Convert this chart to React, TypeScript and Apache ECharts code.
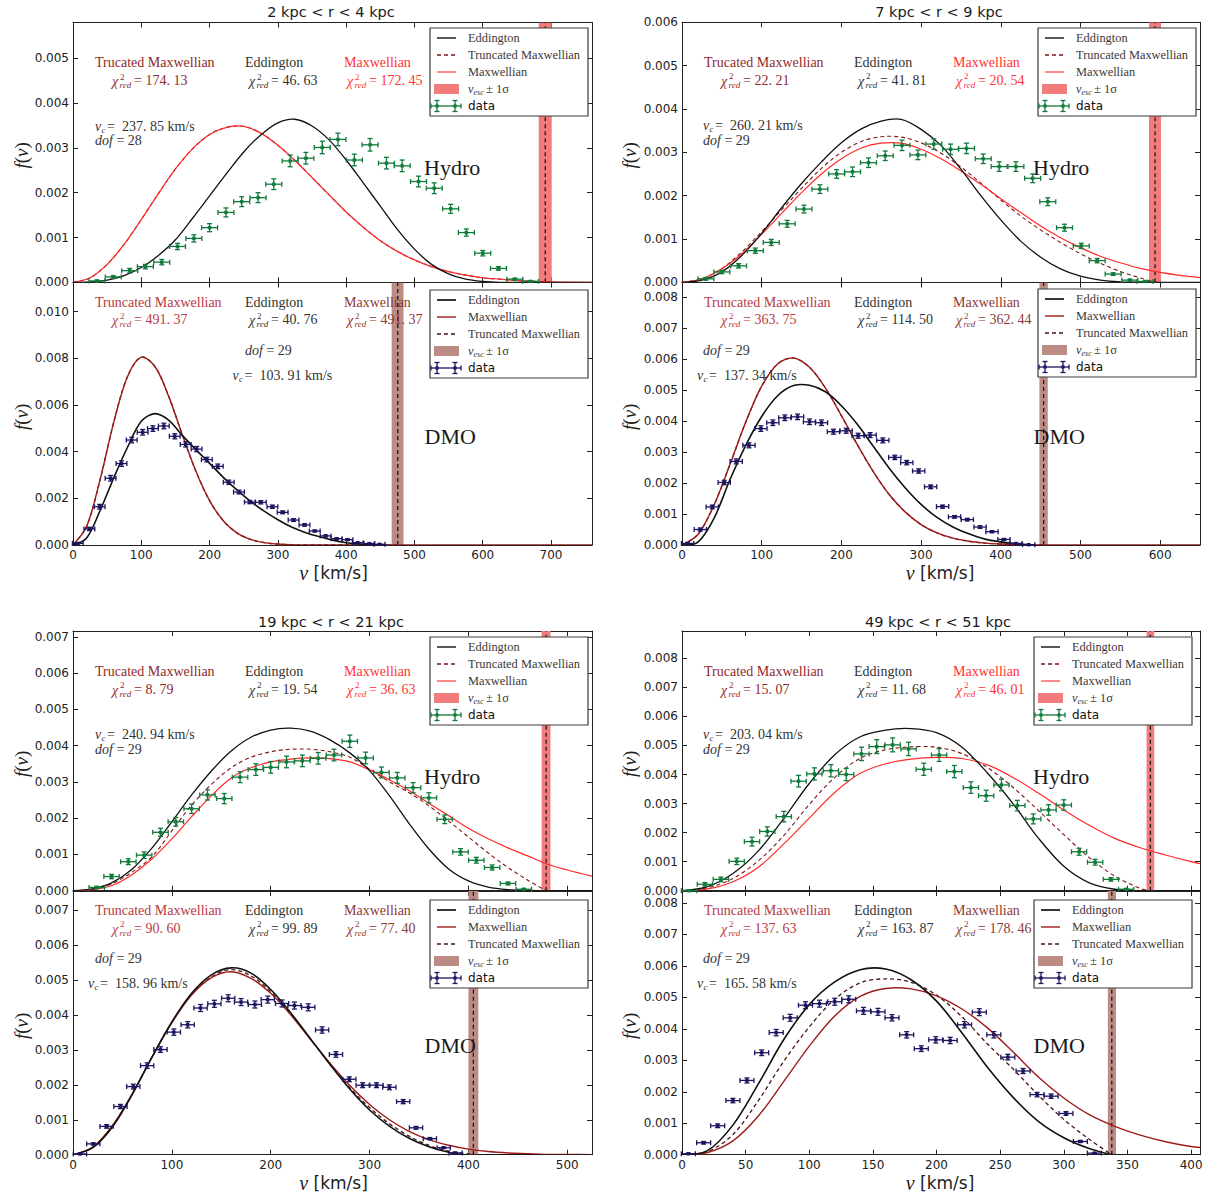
import React, { useEffect, useRef } from "react";
import * as echarts from "echarts";

const SERIF = '"Liberation Serif", "DejaVu Serif", serif';
const SANS = '"DejaVu Sans", "Noto Sans", sans-serif';

// ---------------- titles ----------------
const blockTitles = ["2 kpc < r < 4 kpc", "7 kpc < r < 9 kpc", "19 kpc < r < 21 kpc", "49 kpc < r < 51 kpc"];
const modelNamesHydro = ["Trucated Maxwellian", "Eddington", "Maxwellian"];
const modelNamesDmo = ["Truncated Maxwellian", "Eddington", "Maxwellian"];

// ---------------- 2 kpc < r < 4 kpc : Hydro ----------------
const tlHydroV = [35, 59, 83, 106, 130, 153, 177, 200, 224, 247, 271, 294, 318, 341, 365, 388, 412, 435, 459, 482, 506, 529, 553, 576, 600, 623, 647, 670];
const tlHydroF = [0.00003, 0.00012, 0.00026, 0.00035, 0.00045, 0.0008, 0.00098, 0.00122, 0.00156, 0.0018, 0.00189, 0.00219, 0.00271, 0.00277, 0.00301, 0.00319, 0.00273, 0.00307, 0.00266, 0.0026, 0.00225, 0.0021, 0.00164, 0.00111, 0.00065, 0.00031, 0.00007, 0.00002];
const tlHydroErr = [0.00002, 0.00003, 0.00005, 0.00005, 0.00006, 0.00007, 0.00008, 0.00009, 0.0001, 0.00011, 0.00011, 0.00012, 0.00013, 0.00013, 0.00014, 0.00014, 0.00013, 0.00014, 0.00013, 0.00013, 0.00012, 0.00012, 0.0001, 0.00008, 0.00006, 0.00004, 0.00002, 0.00001];
const tlHydroCurveV = [0, 25, 50, 75, 100, 125, 150, 175, 200, 225, 250, 275, 300, 325, 350, 375, 400, 425, 450, 475, 500, 525, 550, 575, 600, 625, 650, 700, 760];
const tlHydroMax = [0, 0.0001, 0.0004, 0.00085, 0.0014, 0.00198, 0.00253, 0.00298, 0.0033, 0.00346, 0.00348, 0.00333, 0.00306, 0.00272, 0.00234, 0.00195, 0.00157, 0.00123, 0.00093, 0.00069, 0.0005, 0.00035, 0.00024, 0.00016, 0.0001, 0.00007, 0.00004, 0.00001, 0];
const tlHydroEdd = [0, 0.00001, 0.00005, 0.00015, 0.00033, 0.0006, 0.00095, 0.00143, 0.00193, 0.00243, 0.00291, 0.00329, 0.00356, 0.00364, 0.00349, 0.00318, 0.00273, 0.00222, 0.0017, 0.00118, 0.00074, 0.0004, 0.00019, 0.00007, 0.00002, 0, 0, 0, 0];
const tlHydroTruncV = [0, 25, 50, 75, 100, 125, 150, 175, 200, 225, 250, 275, 300, 325, 350, 375, 400, 425, 450, 475, 500, 525, 550, 575, 600, 625, 650, 675, 691];
const tlHydroTrunc = [0, 0.0001, 0.0004, 0.00085, 0.0014, 0.00198, 0.00253, 0.00298, 0.0033, 0.00346, 0.00348, 0.00333, 0.00306, 0.00272, 0.00234, 0.00195, 0.00157, 0.00123, 0.00093, 0.00069, 0.0005, 0.00035, 0.00024, 0.00016, 0.0001, 0.00007, 0.00004, 0.00002, 0];
const tlHydroVesc = [682, 691.5, 701];
const tlHydroChi = ["174. 13", "46. 63", "172. 45"];
const tlHydroVc = "237. 85";
const tlHydroDof = "28";

// ---------------- 2 kpc < r < 4 kpc : DMO ----------------
const tlDmoV = [7, 24, 39, 55, 71, 86, 102, 117, 133, 149, 165, 181, 196, 212, 228, 243, 259, 275, 292, 307, 323, 339, 354, 370, 386, 402, 417, 434, 449];
const tlDmoF = [0.00007, 0.00069, 0.00164, 0.00286, 0.00349, 0.0045, 0.00483, 0.00499, 0.0051, 0.00466, 0.00431, 0.00411, 0.00366, 0.00337, 0.00269, 0.00227, 0.00184, 0.00183, 0.00164, 0.0014, 0.00107, 0.00086, 0.0006, 0.00039, 0.00027, 0.00023, 0.0001, 0.00006, 0.00003];
const tlDmoErr = [0.00003, 0.00007, 0.0001, 0.00012, 0.00012, 0.00012, 0.00012, 0.00012, 0.00012, 0.00011, 0.00011, 0.00011, 0.0001, 0.0001, 0.00009, 0.00008, 0.00007, 0.00007, 0.00007, 0.00006, 0.00006, 0.00005, 0.00004, 0.00004, 0.00003, 0.00003, 0.00002, 0.00002, 0.00001];
const tlDmoCurveV = [0, 20, 40, 60, 80, 100, 120, 140, 160, 180, 200, 220, 240, 260, 280, 300, 320, 340, 360, 400, 450, 500, 760];
const tlDmoMax = [0, 0.0008, 0.00284, 0.0053, 0.00723, 0.00805, 0.00765, 0.00638, 0.00473, 0.00316, 0.0019, 0.00104, 0.00052, 0.00024, 0.0001, 0.00004, 0.00001, 0, 0, 0, 0, 0, 0];
const tlDmoTruncV = [0, 20, 40, 60, 80, 100, 120, 140, 160, 180, 200, 220, 240, 260, 280, 300, 320, 340, 360, 400, 450, 475.6];
const tlDmoTrunc = [0, 0.0008, 0.00284, 0.0053, 0.00723, 0.00805, 0.00765, 0.00638, 0.00473, 0.00316, 0.0019, 0.00104, 0.00052, 0.00024, 0.0001, 0.00004, 0.00001, 0, 0, 0, 0, 0];
const tlDmoEddV = [0, 20, 40, 60, 80, 100, 120, 140, 160, 180, 200, 220, 240, 260, 280, 300, 320, 340, 360, 380, 400, 420, 440, 460];
const tlDmoEdd = [0, 0.0003, 0.0015, 0.0029, 0.0042, 0.0053, 0.00563, 0.00535, 0.0047, 0.00409, 0.0035, 0.0029, 0.00236, 0.00187, 0.00145, 0.00108, 0.00077, 0.00054, 0.00036, 0.00021, 0.0001, 0.00004, 0.00001, 0];
const tlDmoVesc = [466.6, 475.6, 484];
const tlDmoChi = ["491. 37", "40. 76", "491. 37"];
const tlDmoVc = "103. 91";
const tlDmoDof = "29";

// ---------------- 7 kpc < r < 9 kpc : Hydro ----------------
const trHydroV = [30, 50, 71, 92, 112, 132, 153, 173, 194, 214, 234, 255, 276, 296, 316, 337, 357, 378, 398, 419, 440, 459, 480, 501, 521, 541, 562, 581];
const trHydroF = [0.00008, 0.00024, 0.00038, 0.00073, 0.00092, 0.00135, 0.00169, 0.00215, 0.0025, 0.00255, 0.00276, 0.00292, 0.00316, 0.00294, 0.00319, 0.00307, 0.00309, 0.00285, 0.00267, 0.00267, 0.0024, 0.00186, 0.00126, 0.00084, 0.0005, 0.00019, 0.00005, 0.00002];
const trHydroErr = [0.00003, 0.00004, 0.00005, 0.00006, 0.00007, 0.00008, 0.00009, 0.0001, 0.0001, 0.00011, 0.00011, 0.00011, 0.00012, 0.00011, 0.00012, 0.00012, 0.00012, 0.00011, 0.00011, 0.00011, 0.0001, 0.00009, 0.00008, 0.00006, 0.00005, 0.00003, 0.00002, 0.00001];
const trHydroCurveV = [0, 25, 50, 75, 100, 125, 150, 175, 200, 225, 250, 275, 300, 325, 350, 375, 400, 425, 450, 475, 500, 525, 550, 575, 600, 625, 650];
const trHydroMax = [0, 0.00008, 0.00031, 0.00066, 0.00111, 0.00159, 0.00207, 0.0025, 0.00285, 0.0031, 0.00321, 0.00321, 0.00307, 0.00285, 0.00257, 0.00226, 0.00193, 0.00161, 0.0013, 0.00103, 0.0008, 0.0006, 0.00045, 0.00032, 0.00023, 0.00016, 0.00011];
const trHydroEdd = [0, 0.00005, 0.00024, 0.00062, 0.00113, 0.00172, 0.00228, 0.00278, 0.00322, 0.00354, 0.00372, 0.00376, 0.00353, 0.00316, 0.00261, 0.002, 0.00144, 0.00095, 0.00058, 0.00031, 0.00014, 0.00005, 0.00001, 0, 0, 0, 0];
const trHydroTruncV = [0, 25, 50, 75, 100, 125, 150, 175, 200, 225, 250, 275, 300, 325, 350, 375, 400, 425, 450, 475, 500, 525, 550, 575, 594];
const trHydroTrunc = [0, 0.00008, 0.00032, 0.0007, 0.00117, 0.00167, 0.00217, 0.00263, 0.003, 0.00325, 0.00336, 0.00335, 0.00322, 0.00298, 0.00266, 0.00229, 0.0019, 0.00153, 0.00121, 0.00092, 0.00066, 0.00044, 0.00025, 0.0001, 0];
const trHydroVesc = [586, 593.6, 601];
const trHydroChi = ["22. 21", "41. 81", "20. 54"];
const trHydroVc = "260. 21";
const trHydroDof = "29";

// ---------------- 7 kpc < r < 9 kpc : DMO ----------------
const trDmoV = [7, 23, 38, 53, 68, 84, 99, 114, 129, 145, 160, 175, 190, 206, 221, 236, 252, 267, 282, 297, 312, 327, 342, 358, 374, 389, 404, 419, 435];
const trDmoF = [0.00005, 0.0005, 0.00123, 0.00202, 0.0027, 0.00322, 0.00376, 0.00395, 0.00411, 0.00414, 0.00398, 0.00395, 0.00366, 0.00369, 0.00353, 0.00355, 0.00338, 0.00283, 0.00266, 0.00239, 0.00188, 0.00124, 0.00091, 0.00082, 0.00058, 0.00043, 0.00018, 0.00005, 0.00001];
const trDmoErr = [0.00002, 0.00005, 0.00006, 0.00007, 0.00008, 0.00008, 0.00009, 0.00009, 0.00009, 0.00009, 0.00009, 0.00009, 0.00008, 0.00008, 0.00008, 0.00008, 0.00008, 0.00007, 0.00007, 0.00007, 0.00006, 0.00005, 0.00004, 0.00004, 0.00004, 0.00003, 0.00002, 0.00001, 0.00001];
const trDmoCurveV = [0, 20, 40, 60, 80, 100, 120, 140, 160, 180, 200, 220, 240, 260, 280, 300, 320, 340, 360, 380, 400, 450, 500, 650];
const trDmoMax = [0, 0.00034, 0.00128, 0.00259, 0.00397, 0.00513, 0.00585, 0.00604, 0.00574, 0.00507, 0.00418, 0.00324, 0.00237, 0.00163, 0.00107, 0.00066, 0.00039, 0.00022, 0.00012, 0.00006, 0.00003, 0, 0, 0];
const trDmoTruncV = [0, 20, 40, 60, 80, 100, 120, 140, 160, 180, 200, 220, 240, 260, 280, 300, 320, 340, 360, 380, 400, 453.8];
const trDmoTrunc = [0, 0.00034, 0.00128, 0.00259, 0.00397, 0.00513, 0.00585, 0.00604, 0.00574, 0.00507, 0.00418, 0.00324, 0.00237, 0.00163, 0.00107, 0.00066, 0.00039, 0.00022, 0.00012, 0.00006, 0.00003, 0];
const trDmoEddV = [0, 20, 40, 60, 80, 100, 120, 140, 160, 180, 200, 220, 240, 260, 280, 300, 320, 340, 360, 380, 400, 420, 440];
const trDmoEdd = [0, 0.00009, 0.00085, 0.0021, 0.00322, 0.00415, 0.00482, 0.00515, 0.00516, 0.00495, 0.0045, 0.0039, 0.00319, 0.00248, 0.00185, 0.00131, 0.00089, 0.00058, 0.00036, 0.00019, 0.0001, 0.00004, 0];
const trDmoVesc = [448.5, 453.8, 459];
const trDmoChi = ["363. 75", "114. 50", "362. 44"];
const trDmoVc = "137. 34";
const trDmoDof = "29";

// ---------------- 19 kpc < r < 21 kpc : Hydro ----------------
const blHydroV = [24, 39, 56, 72, 88.5, 104, 120, 136, 153, 169, 185, 200, 216, 232, 248, 264, 280, 296, 312, 328, 344, 360, 376, 392, 408, 424, 440, 456];
const blHydroF = [0.00009, 0.00039, 0.0008, 0.00098, 0.00161, 0.0019, 0.00226, 0.00264, 0.00254, 0.00313, 0.00334, 0.0034, 0.00355, 0.00358, 0.00365, 0.00374, 0.00412, 0.00366, 0.00326, 0.00311, 0.00284, 0.00256, 0.00197, 0.00107, 0.00084, 0.00064, 0.0002, 0.00004];
const blHydroErr = [0.00003, 0.00006, 0.00008, 0.00009, 0.00011, 0.00012, 0.00013, 0.00014, 0.00014, 0.00015, 0.00016, 0.00016, 0.00016, 0.00016, 0.00016, 0.00016, 0.00017, 0.00016, 0.00015, 0.00015, 0.00014, 0.00014, 0.00012, 0.00009, 0.00008, 0.00007, 0.00004, 0.00002];
const blHydroCurveV = [0, 20, 40, 60, 80, 100, 120, 140, 160, 180, 200, 220, 240, 260, 280, 300, 320, 340, 360, 380, 400, 420, 440, 460, 480, 500, 525];
const blHydroEdd = [0, 0.00005, 0.00023, 0.0006, 0.00118, 0.0019, 0.00264, 0.0033, 0.00385, 0.00423, 0.00443, 0.00448, 0.0044, 0.00416, 0.0038, 0.00331, 0.00262, 0.00185, 0.00115, 0.0006, 0.00027, 0.0001, 0.00003, 0.00001, 0, 0, 0];
const blHydroMax = [0, 0.00003, 0.00015, 0.00045, 0.00088, 0.00143, 0.00204, 0.00262, 0.00311, 0.00339, 0.00355, 0.00363, 0.00366, 0.00364, 0.00355, 0.00333, 0.00306, 0.00276, 0.00241, 0.00207, 0.00172, 0.00143, 0.00118, 0.00096, 0.00073, 0.00057, 0.0004];
const blHydroTruncV = [0, 20, 40, 60, 80, 100, 120, 140, 160, 180, 200, 220, 240, 260, 280, 300, 320, 340, 360, 380, 400, 420, 440, 460, 478.6];
const blHydroTrunc = [0, 0.00004, 0.0002, 0.00052, 0.00094, 0.00165, 0.00236, 0.00293, 0.00339, 0.00368, 0.00383, 0.0039, 0.0039, 0.00383, 0.00368, 0.00335, 0.003, 0.0027, 0.00234, 0.00192, 0.00148, 0.00104, 0.00064, 0.00029, 0];
const blHydroVesc = [474, 478.6, 483];
const blHydroChi = ["8. 79", "19. 54", "36. 63"];
const blHydroVc = "240. 94";
const blHydroDof = "29";

// ---------------- 19 kpc < r < 21 kpc : DMO ----------------
const blDmoV = [7, 20.5, 34, 48, 61, 75, 88.5, 102, 116, 129, 143, 157, 170, 184, 197, 211.5, 224, 238, 252, 266, 279.5, 293, 307, 320, 334, 347, 361, 375, 387];
const blDmoF = [0.00002, 0.00031, 0.00081, 0.00138, 0.00195, 0.00255, 0.00301, 0.00351, 0.00372, 0.0042, 0.00432, 0.00448, 0.00437, 0.0043, 0.00444, 0.00433, 0.00427, 0.00422, 0.00357, 0.00287, 0.00216, 0.00199, 0.00199, 0.00193, 0.00152, 0.00077, 0.00046, 0.0002, 0.00005];
const blDmoErr = [0.00001, 0.00003, 0.00005, 0.00006, 0.00007, 0.00008, 0.00008, 0.00009, 0.00009, 0.0001, 0.0001, 0.0001, 0.0001, 0.0001, 0.0001, 0.0001, 0.0001, 0.0001, 0.00009, 0.00008, 0.00007, 0.00007, 0.00007, 0.00007, 0.00006, 0.00004, 0.00003, 0.00002, 0.00001];
const blDmoCurveV = [0, 20, 40, 60, 80, 100, 120, 140, 160, 180, 200, 220, 240, 260, 280, 300, 320, 340, 360, 380, 400, 420, 440, 460, 480, 500, 525];
const blDmoMax = [0, 0.00022, 0.00084, 0.00175, 0.00279, 0.00378, 0.00457, 0.00507, 0.00524, 0.00505, 0.00462, 0.00401, 0.00331, 0.00262, 0.00198, 0.00144, 0.001, 0.00067, 0.00043, 0.00027, 0.00016, 0.00009, 0.00005, 0.00003, 0.00001, 0.00001, 0];
const blDmoEddV = [0, 20, 40, 60, 80, 100, 120, 140, 160, 180, 200, 220, 240, 260, 280, 300, 320, 340, 360, 380, 395, 525];
const blDmoEdd = [0, 0.0002, 0.0008, 0.00173, 0.0028, 0.0038, 0.00462, 0.00515, 0.00535, 0.0052, 0.00473, 0.00407, 0.00333, 0.00258, 0.00188, 0.00128, 0.00082, 0.00047, 0.00023, 0.00007, 0, 0];
const blDmoTruncV = [0, 20, 40, 60, 80, 100, 120, 140, 160, 180, 200, 220, 240, 260, 280, 300, 320, 340, 360, 380, 400, 405];
const blDmoTrunc = [0, 0.00021, 0.00083, 0.00174, 0.0028, 0.00379, 0.00459, 0.00509, 0.0053, 0.00512, 0.00467, 0.00404, 0.00332, 0.00259, 0.00192, 0.00135, 0.00089, 0.00053, 0.00027, 0.0001, 0.00002, 0];
const blDmoVesc = [400, 405, 410];
const blDmoChi = ["90. 60", "99. 89", "77. 40"];
const blDmoVc = "158. 96";
const blDmoDof = "29";

// ---------------- 49 kpc < r < 51 kpc : Hydro ----------------
const brHydroV = [5.5, 18, 30.5, 43, 55, 67, 80, 91.6, 104, 117, 129, 141, 153, 165.5, 178, 190, 202, 214, 227, 239, 251, 263.5, 276, 288, 300, 312, 324.6, 337, 349];
const brHydroF = [0.0, 0.00022, 0.00039, 0.00101, 0.00169, 0.00204, 0.00255, 0.00377, 0.00402, 0.00413, 0.004, 0.00471, 0.00496, 0.00502, 0.00488, 0.00418, 0.00467, 0.0041, 0.00355, 0.00327, 0.00364, 0.00293, 0.00247, 0.00278, 0.00295, 0.00134, 0.00098, 0.00039, 0.00005];
const brHydroErr = [0.00002, 0.00006, 0.00008, 0.00011, 0.00015, 0.00016, 0.00018, 0.0002, 0.00021, 0.00021, 0.00021, 0.00023, 0.00024, 0.00024, 0.00023, 0.00021, 0.00022, 0.00021, 0.0002, 0.00019, 0.0002, 0.00018, 0.00017, 0.00018, 0.00018, 0.00012, 0.0001, 0.00006, 0.00002];
const brHydroCurveV = [0, 20, 40, 60, 80, 100, 120, 140, 160, 180, 200, 220, 240, 260, 280, 300, 320, 340, 360, 380, 400, 407];
const brHydroEdd = [0, 0.00014, 0.00059, 0.00137, 0.00249, 0.00369, 0.00468, 0.0053, 0.00553, 0.00558, 0.00544, 0.00494, 0.00405, 0.003, 0.00181, 0.00084, 0.00027, 0.00005, 0, 0, 0, 0];
const brHydroMax = [0, 0.00006, 0.00031, 0.00081, 0.00161, 0.0025, 0.00338, 0.00404, 0.00437, 0.00453, 0.00459, 0.00455, 0.00433, 0.0039, 0.00336, 0.00278, 0.00225, 0.0018, 0.00148, 0.00123, 0.001, 0.00093];
const brHydroTruncV = [0, 20, 40, 60, 80, 100, 120, 140, 160, 180, 200, 220, 240, 260, 280, 300, 320, 340, 360, 368];
const brHydroTrunc = [0, 0.0001, 0.00042, 0.00103, 0.0019, 0.00297, 0.0039, 0.00456, 0.00485, 0.00495, 0.00494, 0.00472, 0.00424, 0.00356, 0.00276, 0.00193, 0.00114, 0.0005, 0.00008, 0];
const brHydroVesc = [365, 368, 371];
const brHydroChi = ["15. 07", "11. 68", "46. 01"];
const brHydroVc = "203. 04";
const brHydroDof = "29";

// ---------------- 49 kpc < r < 51 kpc : DMO ----------------
const brDmoV = [5, 17, 28, 40, 51, 62.6, 74, 85, 97, 108, 120, 131, 142.6, 154, 165, 176.5, 188, 199.4, 210.7, 222, 233.6, 245, 256, 268, 279, 290, 301.7, 313, 324];
const brDmoF = [0.00003, 0.00038, 0.00092, 0.00172, 0.00236, 0.00324, 0.00388, 0.00435, 0.00475, 0.0048, 0.00486, 0.00494, 0.00457, 0.00454, 0.00435, 0.00381, 0.00337, 0.00365, 0.00363, 0.00413, 0.00453, 0.00381, 0.0031, 0.00266, 0.00191, 0.00186, 0.00131, 0.00042, 0.00005];
const brDmoErr = [0.00002, 0.00004, 0.00006, 0.00007, 0.00008, 0.00009, 0.0001, 0.00011, 0.00011, 0.00011, 0.00011, 0.00011, 0.00011, 0.00011, 0.0001, 0.0001, 0.00009, 0.0001, 0.0001, 0.0001, 0.00011, 0.0001, 0.00009, 0.00008, 0.00007, 0.00007, 0.00006, 0.00003, 0.00001];
const brDmoCurveV = [0, 20, 40, 60, 80, 100, 120, 140, 160, 180, 200, 220, 240, 260, 280, 300, 320, 340, 360, 380, 400, 407];
const brDmoMax = [0, 0.00007, 0.00044, 0.00123, 0.00233, 0.00345, 0.00441, 0.00503, 0.00528, 0.00527, 0.00505, 0.00463, 0.00403, 0.00327, 0.00247, 0.0018, 0.00127, 0.0009, 0.00062, 0.00041, 0.00026, 0.00023];
const brDmoEddV = [0, 20, 40, 60, 80, 100, 120, 140, 160, 180, 200, 220, 240, 260, 280, 300, 320, 340, 407];
const brDmoEdd = [0, 0.00013, 0.00094, 0.00225, 0.00366, 0.00477, 0.00549, 0.00588, 0.0059, 0.00556, 0.00488, 0.00387, 0.00278, 0.00183, 0.00106, 0.00054, 0.0002, 0, 0];
const brDmoTruncV = [0, 20, 40, 60, 80, 100, 120, 140, 160, 180, 200, 220, 240, 260, 280, 300, 320, 337.7];
const brDmoTrunc = [0, 0.0001, 0.00064, 0.00172, 0.00297, 0.00406, 0.00494, 0.00546, 0.00559, 0.00548, 0.00507, 0.00438, 0.00352, 0.00273, 0.00189, 0.00112, 0.00049, 0];
const brDmoVesc = [334.6, 337.7, 341];
const brDmoChi = ["137. 63", "163. 87", "178. 46"];
const brDmoVc = "165. 58";
const brDmoDof = "29";

// ---------------- styling ----------------
const C = {
  axis: "#222",
  edd: "#111111",
  hTrunc: "#7f1616",
  hMax: "#ff2a2a",
  hBand: "#f27c7c",
  hData: "#0f7a3a",
  dMax: "#9e1b1b",
  dTrunc: "#4a1414",
  dBand: "#bc8b83",
  dData: "#1b1560",
  hTruncText: "#8f2a2a",
  hMaxText: "#ff3333",
  dTruncText: "#b83a44",
  dMaxText: "#8b3a34",
  grayText: "#333333",
};

type Panel = {
  kind: "hydro" | "dmo";
  left: number; top: number; width: number; height: number;
  xMax: number; xInt: number; yMax: number; yInt: number;
  dataV: number[]; dataF: number[]; errF: number[]; xHalf: number;
  eddV: number[]; edd: number[]; maxV: number[]; max: number[]; truncV: number[]; trunc: number[];
  vesc: number[];
  chi: string[]; vc: string; dof: string;
  legend: [number, number];
  dofX: number; vcX: number;
};

const LCOL = 73, RCOL = 682, LW = 519, RW = 518;

const panels: Panel[] = [
  { kind: "hydro", left: LCOL, top: 22.5, width: LW, height: 259.8, xMax: 760, xInt: 100, yMax: 0.0058, yInt: 0.001,
    dataV: tlHydroV, dataF: tlHydroF, errF: tlHydroErr, xHalf: 11.7,
    eddV: tlHydroCurveV, edd: tlHydroEdd, maxV: tlHydroCurveV, max: tlHydroMax, truncV: tlHydroTruncV, trunc: tlHydroTrunc,
    vesc: tlHydroVesc, chi: tlHydroChi, vc: tlHydroVc, dof: tlHydroDof, legend: [430, 28], dofX: 22, vcX: 22 },
  { kind: "dmo", left: LCOL, top: 282.5, width: LW, height: 262.5, xMax: 760, xInt: 100, yMax: 0.01125, yInt: 0.002,
    dataV: tlDmoV, dataF: tlDmoF, errF: tlDmoErr, xHalf: 7.9,
    eddV: tlDmoEddV, edd: tlDmoEdd, maxV: tlDmoCurveV, max: tlDmoMax, truncV: tlDmoTruncV, trunc: tlDmoTrunc,
    vesc: tlDmoVesc, chi: tlDmoChi, vc: tlDmoVc, dof: tlDmoDof, legend: [430, 290], dofX: 172, vcX: 159.6 },
  { kind: "hydro", left: RCOL, top: 22.3, width: RW, height: 260, xMax: 650, xInt: 100, yMax: 0.006, yInt: 0.001,
    dataV: trHydroV, dataF: trHydroF, errF: trHydroErr, xHalf: 10,
    eddV: trHydroCurveV, edd: trHydroEdd, maxV: trHydroCurveV, max: trHydroMax, truncV: trHydroTruncV, trunc: trHydroTrunc,
    vesc: trHydroVesc, chi: trHydroChi, vc: trHydroVc, dof: trHydroDof, legend: [1038, 28], dofX: 21, vcX: 21 },
  { kind: "dmo", left: RCOL, top: 282.5, width: RW, height: 262.5, xMax: 650, xInt: 100, yMax: 0.00848, yInt: 0.001,
    dataV: trDmoV, dataF: trDmoF, errF: trDmoErr, xHalf: 7.7,
    eddV: trDmoEddV, edd: trDmoEdd, maxV: trDmoCurveV, max: trDmoMax, truncV: trDmoTruncV, trunc: trDmoTrunc,
    vesc: trDmoVesc, chi: trDmoChi, vc: trDmoVc, dof: trDmoDof, legend: [1038, 289], dofX: 21, vcX: 15 },
  { kind: "hydro", left: LCOL, top: 631, width: LW, height: 259.7, xMax: 525, xInt: 100, yMax: 0.00716, yInt: 0.001,
    dataV: blHydroV, dataF: blHydroF, errF: blHydroErr, xHalf: 7.8,
    eddV: blHydroCurveV, edd: blHydroEdd, maxV: blHydroCurveV, max: blHydroMax, truncV: blHydroTruncV, trunc: blHydroTrunc,
    vesc: blHydroVesc, chi: blHydroChi, vc: blHydroVc, dof: blHydroDof, legend: [430, 637], dofX: 22, vcX: 22 },
  { kind: "dmo", left: LCOL, top: 891, width: LW, height: 263.7, xMax: 525, xInt: 100, yMax: 0.00755, yInt: 0.001,
    dataV: blDmoV, dataF: blDmoF, errF: blDmoErr, xHalf: 6.7,
    eddV: blDmoEddV, edd: blDmoEdd, maxV: blDmoCurveV, max: blDmoMax, truncV: blDmoTruncV, trunc: blDmoTrunc,
    vesc: blDmoVesc, chi: blDmoChi, vc: blDmoVc, dof: blDmoDof, legend: [430, 900], dofX: 22, vcX: 15 },
  { kind: "hydro", left: RCOL, top: 631, width: RW, height: 259.7, xMax: 407, xInt: 50, yMax: 0.00894, yInt: 0.001,
    dataV: brHydroV, dataF: brHydroF, errF: brHydroErr, xHalf: 6,
    eddV: brHydroCurveV, edd: brHydroEdd, maxV: brHydroCurveV, max: brHydroMax, truncV: brHydroTruncV, trunc: brHydroTrunc,
    vesc: brHydroVesc, chi: brHydroChi, vc: brHydroVc, dof: brHydroDof, legend: [1034, 637], dofX: 21, vcX: 21 },
  { kind: "dmo", left: RCOL, top: 891, width: RW, height: 263.7, xMax: 407, xInt: 50, yMax: 0.00838, yInt: 0.001,
    dataV: brDmoV, dataF: brDmoF, errF: brDmoErr, xHalf: 5.5,
    eddV: brDmoEddV, edd: brDmoEdd, maxV: brDmoCurveV, max: brDmoMax, truncV: brDmoTruncV, trunc: brDmoTrunc,
    vesc: brDmoVesc, chi: brDmoChi, vc: brDmoVc, dof: brDmoDof, legend: [1034, 900], dofX: 21, vcX: 15 },
];

// ---------------- graphic helpers ----------------
type TOpt = { fill?: string; size?: number; family?: string; italic?: boolean; align?: string; va?: string; rich?: any; rotation?: number };
function txt(x: number, y: number, text: string, o: TOpt = {}) {
  const align = o.align || "left";
  const va = o.va || "middle";
  return {
    type: "text", x, y, z: 30, silent: true, rotation: o.rotation || 0,
    style: {
      text, fill: o.fill || "#222", fontSize: o.size || 14, fontFamily: o.family || SERIF,
      fontStyle: o.italic ? "italic" : "normal",
      align, verticalAlign: va, textAlign: align, textVerticalAlign: va, rich: o.rich,
    },
  };
}
function chiText(x: number, y: number, val: string, fill: string) {
  return [
    txt(x, y + 1, "χ", { fill, size: 14, italic: true }),
    txt(x + 8, y - 4, "2", { fill, size: 9 }),
    txt(x + 7.5, y + 4.5, "red", { fill, size: 9, italic: true }),
    txt(x + 22, y, "= " + val, { fill, size: 14 }),
  ];
}
function vcText(x: number, y: number, val: string) {
  const fill = C.grayText;
  return [
    txt(x, y, "v", { fill, size: 14, italic: true }),
    txt(x + 6.5, y + 3.5, "c", { fill, size: 9, italic: true }),
    txt(x + 12, y, "=  " + val + " km/s", { fill, size: 14 }),
  ];
}
function dofText(x: number, y: number, val: string) {
  const fill = C.grayText;
  return txt(x, y, "{i|dof}{n| = " + val + "}", {
    fill,
    rich: {
      i: { fontStyle: "italic", fontFamily: SERIF, fontSize: 14, fill, color: fill },
      n: { fontFamily: SERIF, fontSize: 14, fill, color: fill },
    },
  });
}
function seg(x1: number, y1: number, x2: number, y2: number, stroke: string, lineWidth = 1, lineDash?: number[]) {
  return { type: "line", z: 31, silent: true, shape: { x1, y1, x2, y2 }, style: { stroke, lineWidth, lineDash } };
}
function legendBox(bx: number, by: number, kind: "hydro" | "dmo") {
  const els: any[] = [];
  const W = 158, H = 88;
  els.push({ type: "rect", z: 29, silent: true, shape: { x: bx, y: by, width: W, height: H }, style: { fill: "#fff", stroke: "#3a3a3a", lineWidth: 1.2 } });
  const lx1 = bx + 7, lx2 = bx + 26, tx = bx + 38;
  const ys = [0, 1, 2, 3, 4].map((i) => by + 10 + 17 * i);
  const lab = (y: number, s: string) => txt(tx, y, s, { fill: "#3a3a3a", size: 12.4 });
  if (kind === "hydro") {
    els.push(seg(lx1, ys[0], lx2, ys[0], C.edd, 1.4));
    els.push(lab(ys[0], "Eddington"));
    els.push(seg(lx1, ys[1], lx2, ys[1], C.hTrunc, 1.4, [4, 3]));
    els.push(lab(ys[1], "Truncated Maxwellian"));
    els.push(seg(lx1, ys[2], lx2, ys[2], C.hMax, 1.1));
    els.push(lab(ys[2], "Maxwellian"));
  } else {
    els.push(seg(lx1, ys[0], lx2, ys[0], C.edd, 1.7));
    els.push(lab(ys[0], "Eddington"));
    els.push(seg(lx1, ys[1], lx2, ys[1], C.dMax, 1.4));
    els.push(lab(ys[1], "Maxwellian"));
    els.push(seg(lx1, ys[2], lx2, ys[2], C.dTrunc, 1.4, [4, 3]));
    els.push(lab(ys[2], "Truncated Maxwellian"));
  }
  const band = kind === "hydro" ? C.hBand : C.dBand;
  els.push({ type: "rect", z: 31, silent: true, shape: { x: bx + 4, y: ys[3] - 5, width: 25, height: 10 }, style: { fill: band } });
  els.push(txt(tx, ys[3], "v", { fill: "#3a3a3a", size: 12.5, italic: true }));
  els.push(txt(tx + 5.5, ys[3] + 3.5, "esc", { fill: "#3a3a3a", size: 8, italic: true }));
  els.push(txt(tx + 18, ys[3], "± 1σ", { fill: "#3a3a3a", size: 12.5 }));
  const dc = kind === "hydro" ? C.hData : C.dData;
  const y = ys[4];
  els.push(seg(bx + 1, y, bx + 31, y, dc, 1.3));
  els.push(seg(bx + 1, y - 2.5, bx + 1, y + 2.5, dc, 1.3));
  els.push(seg(bx + 31, y - 2.5, bx + 31, y + 2.5, dc, 1.3));
  [bx + 7, bx + 25].forEach((cx) => {
    els.push(seg(cx, y - 5.5, cx, y + 5.5, dc, 1.3));
    els.push(seg(cx - 2.5, y - 5.5, cx + 2.5, y - 5.5, dc, 1.3));
    els.push(seg(cx - 2.5, y + 5.5, cx + 2.5, y + 5.5, dc, 1.3));
    els.push({ type: "rect", z: 32, silent: true, shape: { x: cx - 1.6, y: y - 1.6, width: 3.2, height: 3.2 }, style: { fill: dc } });
  });
  els.push(txt(tx, y, "data", { fill: "#111", size: 12, family: SANS }));
  return els;
}

function buildOption() {
  const grid: any[] = [];
  const xAxis: any[] = [];
  const yAxis: any[] = [];
  const series: any[] = [];
  const graphic: any[] = [];

  const axLine = { show: true, onZero: false, lineStyle: { color: C.axis, width: 1 } };
  const tick = { show: true, inside: true, length: 5, lineStyle: { color: C.axis, width: 1 } };

  panels.forEach((p, g) => {
    grid.push({ left: p.left, top: p.top, width: p.width, height: p.height, containLabel: false });
    const yFmt = (v: number) => {
      const k = v / p.yInt;
      return Math.abs(k - Math.round(k)) < 1e-6 ? v.toFixed(3) : "";
    };
    const xFmt = (v: number) => {
      const k = v / p.xInt;
      return Math.abs(k - Math.round(k)) < 1e-6 ? String(Math.round(v)) : "";
    };
    xAxis.push({ gridIndex: g, type: "value", position: "bottom", min: 0, max: p.xMax, interval: p.xInt,
      axisLine: axLine, axisTick: tick, splitLine: { show: false },
      axisLabel: { show: p.kind === "dmo", fontFamily: SANS, fontSize: 12, color: "#222", margin: 4, formatter: xFmt, showMaxLabel: true } });
    xAxis.push({ gridIndex: g, type: "value", position: "top", min: 0, max: p.xMax, interval: p.xInt,
      axisLine: axLine, axisTick: tick, splitLine: { show: false }, axisLabel: { show: false } });
    yAxis.push({ gridIndex: g, type: "value", position: "left", min: 0, max: p.yMax, interval: p.yInt,
      axisLine: axLine, axisTick: tick, splitLine: { show: false },
      axisLabel: { fontFamily: SANS, fontSize: 12, color: "#222", margin: 4, formatter: yFmt } });
    yAxis.push({ gridIndex: g, type: "value", position: "right", min: 0, max: p.yMax, interval: p.yInt,
      axisLine: axLine, axisTick: tick, splitLine: { show: false }, axisLabel: { show: false } });

    const xi = 2 * g, yi = 2 * g;
    const hydro = p.kind === "hydro";
    const bandColor = hydro ? C.hBand : C.dBand;
    const yMax = p.yMax;

    // v_esc band
    series.push({
      type: "custom", xAxisIndex: xi, yAxisIndex: yi, z: 1, silent: true, clip: true,
      data: [[p.vesc[0], p.vesc[2], 0]], encode: { x: [0, 1], y: 2 },
      renderItem: (params: any, api: any) => {
        const a = api.coord([api.value(0), yMax]);
        const b = api.coord([api.value(1), 0]);
        return { type: "rect", shape: { x: a[0], y: a[1], width: b[0] - a[0], height: b[1] - a[1] }, style: { fill: bandColor } };
      },
    });
    // v_esc dashed line
    series.push({
      type: "line", xAxisIndex: xi, yAxisIndex: yi, z: 2, silent: true, symbol: "none", animation: false,
      data: [[p.vesc[1], 0], [p.vesc[1], yMax]],
      lineStyle: { color: "#111", width: 1.2, type: [4, 3] },
    });

    // model curves: one polyline per curve, through the listed points, placed by the axes' scales
    const curve = (v: number[], f: number[], color: string, width: number, dashed: boolean, z: number) => ({
      type: "custom", xAxisIndex: xi, yAxisIndex: yi, z, silent: true, clip: true,
      data: [[v[0], f[0]]], encode: { x: 0, y: 1 },
      renderItem: (params: any, api: any) => ({
        type: "polyline",
        shape: { points: v.map((x, i) => api.coord([x, f[i]])), smooth: 0.33 },
        style: { stroke: color, lineWidth: width, fill: "none", lineDash: dashed ? [4, 3] : null },
      }),
    });
    if (hydro) {
      series.push(curve(p.truncV, p.trunc, C.hTrunc, 1.1, true, 3));
      series.push(curve(p.maxV, p.max, C.hMax, 1.2, false, 4));
      series.push(curve(p.eddV, p.edd, C.edd, 1.3, false, 5));
    } else {
      series.push(curve(p.truncV, p.trunc, C.dTrunc, 1.3, true, 3));
      series.push(curve(p.maxV, p.max, C.dMax, 1.4, false, 4));
      series.push(curve(p.eddV, p.edd, C.edd, 1.6, false, 5));
    }

    // data with error bars
    const dc = hydro ? C.hData : C.dData;
    series.push({
      type: "custom", xAxisIndex: xi, yAxisIndex: yi, z: 6, silent: true,
      data: p.dataV.map((v, i) => [v, p.dataF[i], p.xHalf, p.errF[i]]),
      encode: { x: 0, y: 1 },
      renderItem: (params: any, api: any) => {
        const v = api.value(0), f = api.value(1), ex = api.value(2), ey = api.value(3);
        const c = api.coord([v, f]);
        const l = api.coord([v - ex, f]);
        const r = api.coord([v + ex, f]);
        const t = api.coord([v, f + ey]);
        const b = api.coord([v, Math.max(f - ey, 0)]);
        const st = { stroke: dc, lineWidth: 1.3 };
        const cap = 2.5;
        return {
          type: "group",
          children: [
            { type: "line", shape: { x1: l[0], y1: c[1], x2: r[0], y2: c[1] }, style: st },
            { type: "line", shape: { x1: l[0], y1: c[1] - cap, x2: l[0], y2: c[1] + cap }, style: st },
            { type: "line", shape: { x1: r[0], y1: c[1] - cap, x2: r[0], y2: c[1] + cap }, style: st },
            { type: "line", shape: { x1: c[0], y1: t[1], x2: c[0], y2: b[1] }, style: st },
            { type: "line", shape: { x1: c[0] - cap, y1: t[1], x2: c[0] + cap, y2: t[1] }, style: st },
            { type: "line", shape: { x1: c[0] - cap, y1: b[1], x2: c[0] + cap, y2: b[1] }, style: st },
            { type: "rect", shape: { x: c[0] - 1.7, y: c[1] - 1.7, width: 3.4, height: 3.4 }, style: { fill: dc } },
          ],
        };
      },
    });

    // annotations
    const L = p.left, T = p.top;
    if (hydro) {
      const nameY = T + 40, chiY = T + 58;
      const names = modelNamesHydro;
      const cols = [C.hTruncText, C.grayText, C.hMaxText];
      const nx = [22, 172, 271], cx = [39, 176, 274];
      names.forEach((n, i) => {
        graphic.push(txt(L + nx[i], nameY, n, { fill: cols[i], size: 14 }));
        chiText(L + cx[i], chiY, p.chi[i], cols[i]).forEach((e) => graphic.push(e));
      });
      vcText(L + p.vcX, T + 103.5, p.vc).forEach((e) => graphic.push(e));
      graphic.push(dofText(L + p.dofX, T + 118, p.dof));
      graphic.push(txt(L + 351, T + 145, "Hydro", { fill: "#1a1a1a", size: 22 }));
    } else {
      const nameY = T + 19.8, chiY = T + 37.3;
      const names = modelNamesDmo;
      const cols = [C.dTruncText, C.grayText, C.dMaxText];
      const nx = [22, 172, 271], cx = [39, 176, 274];
      names.forEach((n, i) => {
        graphic.push(txt(L + nx[i], nameY, n, { fill: cols[i], size: 14 }));
        chiText(L + cx[i], chiY, p.chi[i], cols[i]).forEach((e) => graphic.push(e));
      });
      graphic.push(dofText(L + p.dofX, T + 67.5, p.dof));
      vcText(L + p.vcX, T + 92.8, p.vc).forEach((e) => graphic.push(e));
      graphic.push(txt(L + 351.5, T + 154, "DMO", { fill: "#1a1a1a", size: 22 }));
    }
    legendBox(p.legend[0], p.legend[1], p.kind).forEach((e) => graphic.push(e));

    // y-axis title f(v)
    const fx = p.left === LCOL ? 21 : 629;
    graphic.push(txt(fx, p.top + p.height / 2 + 3, "{i|f}{n|(}{i|v}{n|)}", {
      align: "center", va: "middle", rotation: Math.PI / 2,
      rich: {
        i: { fontStyle: "italic", fontFamily: SERIF, fontSize: 19, fill: "#222", color: "#222" },
        n: { fontFamily: SERIF, fontSize: 19, fill: "#222", color: "#222" },
      },
    }));
    // x-axis title under DMO panels
    if (!hydro) {
      const cxm = p.left === LCOL ? 333.5 : 940;
      graphic.push(txt(cxm, p.top + p.height + 28, "{i|v}{n| [km/s]}", {
        align: "center", va: "middle",
        rich: {
          i: { fontStyle: "italic", fontFamily: SERIF, fontSize: 20, fill: "#222", color: "#222" },
          n: { fontFamily: SANS, fontSize: 17, fill: "#222", color: "#222" },
        },
      }));
    }
  });

  // block titles
  const titlePos = [[331, 12], [939, 12], [331, 621.5], [938, 621.5]];
  blockTitles.forEach((t, i) => {
    graphic.push(txt(titlePos[i][0], titlePos[i][1], t, { align: "center", va: "middle", family: SANS, size: 14.5, fill: "#1a1a1a" }));
  });

  return {
    animation: false,
    backgroundColor: "#ffffff",
    grid, xAxis, yAxis, series,
    graphic: { elements: graphic },
  };
}

export default function App() {
  const ref = useRef<HTMLDivElement>(null);
  useEffect(() => {
    if (!ref.current) return;
    const chart = echarts.init(ref.current, null, { renderer: "svg" });
    chart.setOption(buildOption() as any);
    return () => chart.dispose();
  }, []);
  return (
    <div
      ref={ref}
      style={{ position: "absolute", left: 0, top: 0, width: 1217, height: 1198, background: "#fff" }}
    />
  );
}
